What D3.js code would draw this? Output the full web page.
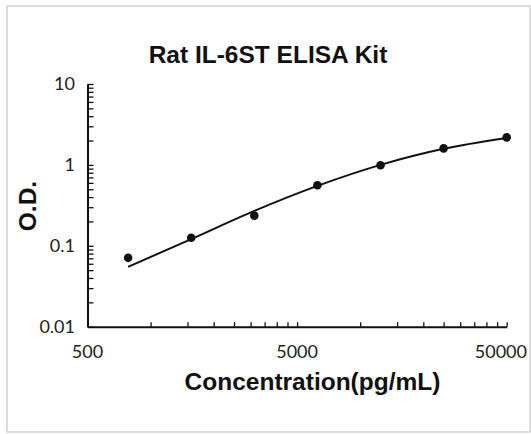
<!DOCTYPE html>
<html>
<head>
<meta charset="utf-8">
<script src="https://cdn.jsdelivr.net/npm/d3@7/dist/d3.min.js"></script>
<style>
  html, body { margin: 0; padding: 0; background: #fff; }
  svg { display: block; }
</style>
</head>
<body>
<svg id="chart" width="531" height="434"></svg>
<script>
// ---- data ----
const title = "Rat IL-6ST ELISA Kit";
const xTitle = "Concentration(pg/mL)";
const yTitle = "O.D.";
const concentrations = [781.25, 1562.5, 3125, 6250, 12500, 25000, 50000];
const odValues = [0.071, 0.126, 0.236, 0.56, 0.99, 1.60, 2.19];
const curveValues = [0.055, 0.121, 0.27, 0.55, 1.0, 1.58, 2.15];
const xTickLabels = [500, 5000, 50000];
const yTickLabels = [0.01, 0.1, 1, 10];
const xMinorTicks = [500,1000,1500,2000,2500,3000,3500,4000,4500,5000,10000,15000,20000,25000,30000,35000,40000,45000,50000];
const yMinorTicks = [0.01,0.02,0.03,0.04,0.05,0.06,0.07,0.08,0.09,0.1,0.2,0.3,0.4,0.5,0.6,0.7,0.8,0.9,1,2,3,4,5,6,7,8,9,10];

(function () {
// ---- layout ----
const svg = d3.select("#chart");
const plotLeft = 87.5, plotRight = 506.7, plotTop = 84, plotBottom = 326.7;

svg.append("rect")
  .attr("x", 7).attr("y", 6).attr("width", 523).attr("height", 426)
  .attr("fill", "#fff").attr("stroke", "#d2d2d2").attr("stroke-width", 1.5);

const x = d3.scaleLog().domain([500, 50000]).range([plotLeft, plotRight]);
const y = d3.scaleLog().domain([0.01, 10]).range([plotBottom, plotTop]);

// x axis (ticks point inward/up)
const xAxis = svg.append("g")
  .attr("transform", `translate(0,${plotBottom})`)
  .call(d3.axisBottom(x).tickValues(xMinorTicks).tickSizeInner(-4.5).tickSizeOuter(0).tickFormat(""));
xAxis.select(".domain").attr("stroke", "#111").attr("stroke-width", 2);
xAxis.selectAll(".tick line").attr("stroke", "#111").attr("stroke-width", 1.3);

// y axis (ticks point inward/right)
const yAxis = svg.append("g")
  .attr("transform", `translate(${plotLeft},0)`)
  .call(d3.axisLeft(y).tickValues(yMinorTicks).tickSizeInner(-6).tickSizeOuter(0).tickFormat(""));
yAxis.select(".domain").attr("stroke", "#111").attr("stroke-width", 2);
yAxis.selectAll(".tick line").attr("stroke", "#111").attr("stroke-width", 1.3);

// tick labels
const tickFont = "Lato, 'Open Sans', sans-serif";
const lastX = xTickLabels[xTickLabels.length - 1];
svg.append("g").selectAll("text").data(xTickLabels).join("text")
  .attr("x", d => d === lastX ? 527 : x(d)).attr("y", 357.5)
  .attr("text-anchor", d => d === lastX ? "end" : "middle")
  .attr("font-family", tickFont).attr("font-size", 18).attr("fill", "#222")
  .text(d => d);
svg.append("g").selectAll("text").data(yTickLabels).join("text")
  .attr("x", 75).attr("y", d => y(d)).attr("dy", "0.36em")
  .attr("text-anchor", "end")
  .attr("font-family", tickFont).attr("font-size", 18).attr("fill", "#222")
  .text(d => d);

// curve
const pts = concentrations.map((c, i) => [x(c), y(curveValues[i])]);
svg.append("path")
  .attr("d", d3.line().curve(d3.curveMonotoneX)(pts))
  .attr("fill", "none").attr("stroke", "#111").attr("stroke-width", 2);

// points
svg.append("g").selectAll("circle").data(concentrations).join("circle")
  .attr("cx", d => x(d)).attr("cy", (d, i) => y(odValues[i]))
  .attr("r", 4.3).attr("fill", "#111");

// titles
const boldFont = "'Liberation Sans', Arial, sans-serif";
svg.append("text").attr("x", 268).attr("y", 63).attr("text-anchor", "middle")
  .attr("font-family", boldFont).attr("font-weight", "bold").attr("font-size", 24.5).attr("fill", "#111")
  .text(title);
svg.append("text").attr("x", 312.5).attr("y", 390).attr("text-anchor", "middle")
  .attr("font-family", boldFont).attr("font-weight", "bold").attr("font-size", 24.5).attr("fill", "#111")
  .text(xTitle);
svg.append("text").attr("transform", "translate(35.5,206) rotate(-90)").attr("text-anchor", "middle")
  .attr("font-family", boldFont).attr("font-weight", "bold").attr("font-size", 24.5).attr("fill", "#111")
  .text(yTitle);
})();
</script>
</body>
</html>
